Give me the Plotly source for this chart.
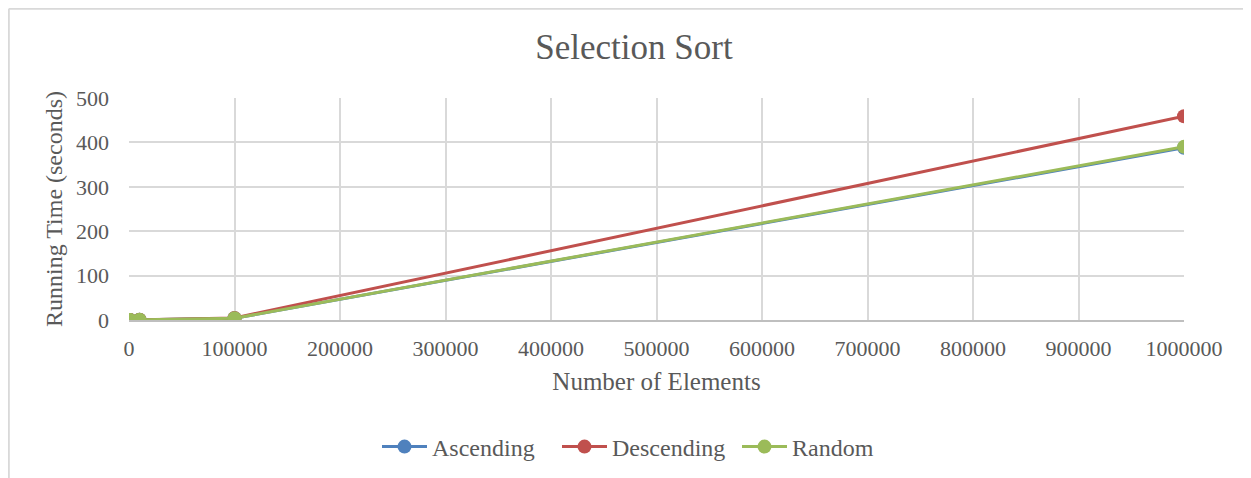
import plotly.graph_objects as go

n_elements = [100, 1000, 10000, 100000, 1000000]
ascending = [0.0004, 0.04, 0.4, 3.9, 388]
descending = [0.0005, 0.05, 0.45, 4.6, 459]
random_ = [0.0004, 0.04, 0.4, 3.9, 390]
series_names = ["Ascending", "Descending", "Random"]
colors = ["#4F81BD", "#C0504D", "#9BBB59"]
x_ticks = [0, 100000, 200000, 300000, 400000, 500000, 600000, 700000, 800000, 900000, 1000000]
y_ticks = [0, 100, 200, 300, 400, 500]

FONT = "Liberation Serif, Times New Roman, serif"
TXT = "#595959"

fig = go.Figure()
for name, vals, col in zip(series_names, [ascending, descending, random_], colors):
    fig.add_trace(go.Scatter(
        x=n_elements, y=vals, name=name, mode="lines+markers",
        line=dict(color=col, width=3),
        marker=dict(color=col, size=14),
    ))

# page body has an 8px margin, so the figure is 8px smaller and shifted
OFF = 8
W, H = 1251 - OFF, 478 - OFF
L, R, T, B = 121, 67, 90, 158
pw, ph = W - L - R, H - T - B

def px_to_paper_x(px):
    return (px - L) / pw

def px_to_paper_y(py):
    return (H - B - py) / ph

fig.update_layout(
    width=W, height=H,
    margin=dict(l=L, r=R, t=T, b=B, autoexpand=False),
    paper_bgcolor="white", plot_bgcolor="white",
    font=dict(family=FONT, color=TXT, size=22),
    title=dict(text="Selection Sort", x=626 / W, xanchor="center",
               y=1 - 39 / H, yanchor="middle", yref="container",
               font=dict(family=FONT, size=35, color=TXT)),
    xaxis=dict(range=[0, 1000000], tickvals=x_ticks,
               ticktext=[str(v) for v in x_ticks],
               showgrid=True, gridcolor="#D9D9D9", gridwidth=1.5,
               showline=True, linecolor="#BFBFBF", linewidth=1.5,
               zeroline=False, ticks="", ticklabelstandoff=8,
               tickfont=dict(family=FONT, size=22, color=TXT),
               title=dict(text="Number of Elements", standoff=12,
                          font=dict(family=FONT, size=25, color=TXT)),
               automargin=False, fixedrange=True),
    yaxis=dict(range=[0, 500], tickvals=y_ticks,
               showgrid=True, gridcolor="#D9D9D9", gridwidth=1.5,
               zeroline=False, showline=False, ticks="", ticklabelstandoff=19,
               tickfont=dict(family=FONT, size=22, color=TXT),
               title=dict(text="Running Time (seconds)", standoff=6,
                          font=dict(family=FONT, size=24, color=TXT)),
               automargin=False, fixedrange=True),
    legend=dict(orientation="h", x=639 / W, xanchor="center", xref="container",
                y=1 - 439 / H, yanchor="middle", yref="container",
                font=dict(family=FONT, size=24, color=TXT),
                itemwidth=45, entrywidth=120, traceorder="normal"),
    showlegend=True,
)

# outer chart border (top and left edges; right/bottom lie outside the view)
fig.add_shape(type="line", xref="paper", yref="paper",
              x0=px_to_paper_x(0.8), x1=px_to_paper_x(W + 20),
              y0=px_to_paper_y(0.8), y1=px_to_paper_y(0.8),
              line=dict(color="#D9D9D9", width=2))
fig.add_shape(type="line", xref="paper", yref="paper",
              x0=px_to_paper_x(0.8), x1=px_to_paper_x(0.8),
              y0=px_to_paper_y(0.8), y1=px_to_paper_y(H + 20),
              line=dict(color="#D9D9D9", width=2))

fig.write_html("out.html")
